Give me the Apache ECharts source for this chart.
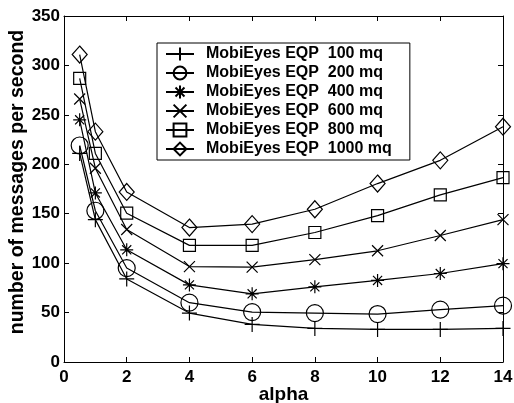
<!DOCTYPE html>
<html>
<head>
<meta charset="utf-8">
<script src="https://cdn.jsdelivr.net/npm/echarts@6/dist/echarts.min.js"></script>
<style>html,body{margin:0;padding:0;background:#fff}#c{width:514px;height:403px}</style>
</head>
<body>
<div id="c"></div>
<script>
const alpha = [0.5, 1, 2, 4, 6, 8, 10, 12, 14];
const seriesNames = ['MobiEyes EQP  100 mq','MobiEyes EQP  200 mq','MobiEyes EQP  400 mq','MobiEyes EQP  600 mq','MobiEyes EQP  800 mq','MobiEyes EQP  1000 mq'];
const mq100  = [211, 144, 84, 49.5, 38, 34, 33, 33, 34];
const mq200  = [219, 153, 95, 60, 50.5, 49.5, 48.5, 53, 57];
const mq400  = [245, 171, 113.5, 78, 69, 76, 82.5, 89.5, 99.5];
const mq600  = [266, 196, 134, 96.5, 96, 103.5, 112.5, 128, 144];
const mq800  = [287, 211, 150.5, 118, 118, 131, 148, 169, 186.5];
const mq1000 = [311, 233, 172, 136, 139.5, 154.5, 180.5, 204, 238];
const xTicks = [0, 2, 4, 6, 8, 10, 12, 14];
const yTicks = [0, 50, 100, 150, 200, 250, 300, 350];

const values = [mq100, mq200, mq400, mq600, mq800, mq1000];
const symbols = [
  'path://M0,5L10,5M5,0L5,10',
  'circle',
  'path://M0,5L10,5M5,0L5,10M1.5,1.5L8.5,8.5M8.5,1.5L1.5,8.5',
  'path://M0,0L10,10M10,0L0,10',
  'rect',
  'diamond'
];
const sizes = [[15,15], 17, 13, 11, 12, [15,17]];

const font = '"Liberation Sans", Arial, Helvetica, sans-serif';
const chart = echarts.init(document.getElementById('c'), null, {renderer: 'canvas'});
const series = values.map((v, i) => ({
  name: seriesNames[i],
  type: 'line',
  data: alpha.map((a, j) => [a, v[j]]),
  symbol: symbols[i],
  symbolSize: sizes[i],
  showAllSymbol: true,
  lineStyle: {color: '#000', width: 1.2},
  itemStyle: {color: 'rgba(255,255,255,0)', borderColor: '#000', borderWidth: 1.2},
  emphasis: {disabled: true},
  animation: false,
  z: 3
}));

const axisCommon = {
  axisLine: {show: true, onZero: false, lineStyle: {color: '#000', width: 1}},
  axisTick: {show: true, inside: true, length: 5, lineStyle: {color: '#000'}},
  splitLine: {show: false}
};

chart.setOption({
  animation: false,
  backgroundColor: '#fff',
  grid: {left: 64, right: 11, top: 16, bottom: 41, containLabel: false, outerBoundsMode: 'none'},
  legend: {
    orient: 'vertical',
    left: 157, top: 43,
    padding: [3, 18, 3, 8],
    itemGap: 3,
    itemWidth: 28,
    itemHeight: 16,
    backgroundColor: '#fff',
    borderColor: '#000',
    borderWidth: 1,
    borderRadius: 0,
    textStyle: {fontFamily: font, fontWeight: 'bold', fontSize: 16, color: '#000', padding: [0,0,0,7]},
    data: seriesNames
  },
  xAxis: [
    Object.assign({
      type: 'value', min: 0, max: 14, interval: 2, position: 'bottom',
      name: 'alpha', nameLocation: 'middle', nameGap: 23, nameMoveOverlap: false,
      nameTextStyle: {fontFamily: font, fontWeight: 'bold', fontSize: 19, color: '#000'},
      axisLabel: {fontFamily: font, fontWeight: 'bold', fontSize: 17, color: '#000', margin: 7,
        formatter: v => xTicks.includes(v) ? String(v) : ''}
    }, axisCommon),
    Object.assign({
      type: 'value', min: 0, max: 14, interval: 2, position: 'top',
      axisLabel: {show: false}
    }, axisCommon)
  ],
  yAxis: [
    Object.assign({
      type: 'value', min: 0, max: 350, interval: 50, position: 'left',
      name: 'number of messages per second', nameLocation: 'middle', nameGap: 36, nameMoveOverlap: false,
      nameTextStyle: {fontFamily: font, fontWeight: 'bold', fontSize: 19.5, color: '#000', padding: [0, 0, 0, 14]},
      axisLabel: {fontFamily: font, fontWeight: 'bold', fontSize: 17, color: '#000', margin: 4,
        formatter: v => yTicks.includes(v) ? String(v) : ''}
    }, axisCommon),
    Object.assign({
      type: 'value', min: 0, max: 350, interval: 50, position: 'right',
      axisLabel: {show: false}
    }, axisCommon)
  ],
  series: series
});
</script>
</body>
</html>
